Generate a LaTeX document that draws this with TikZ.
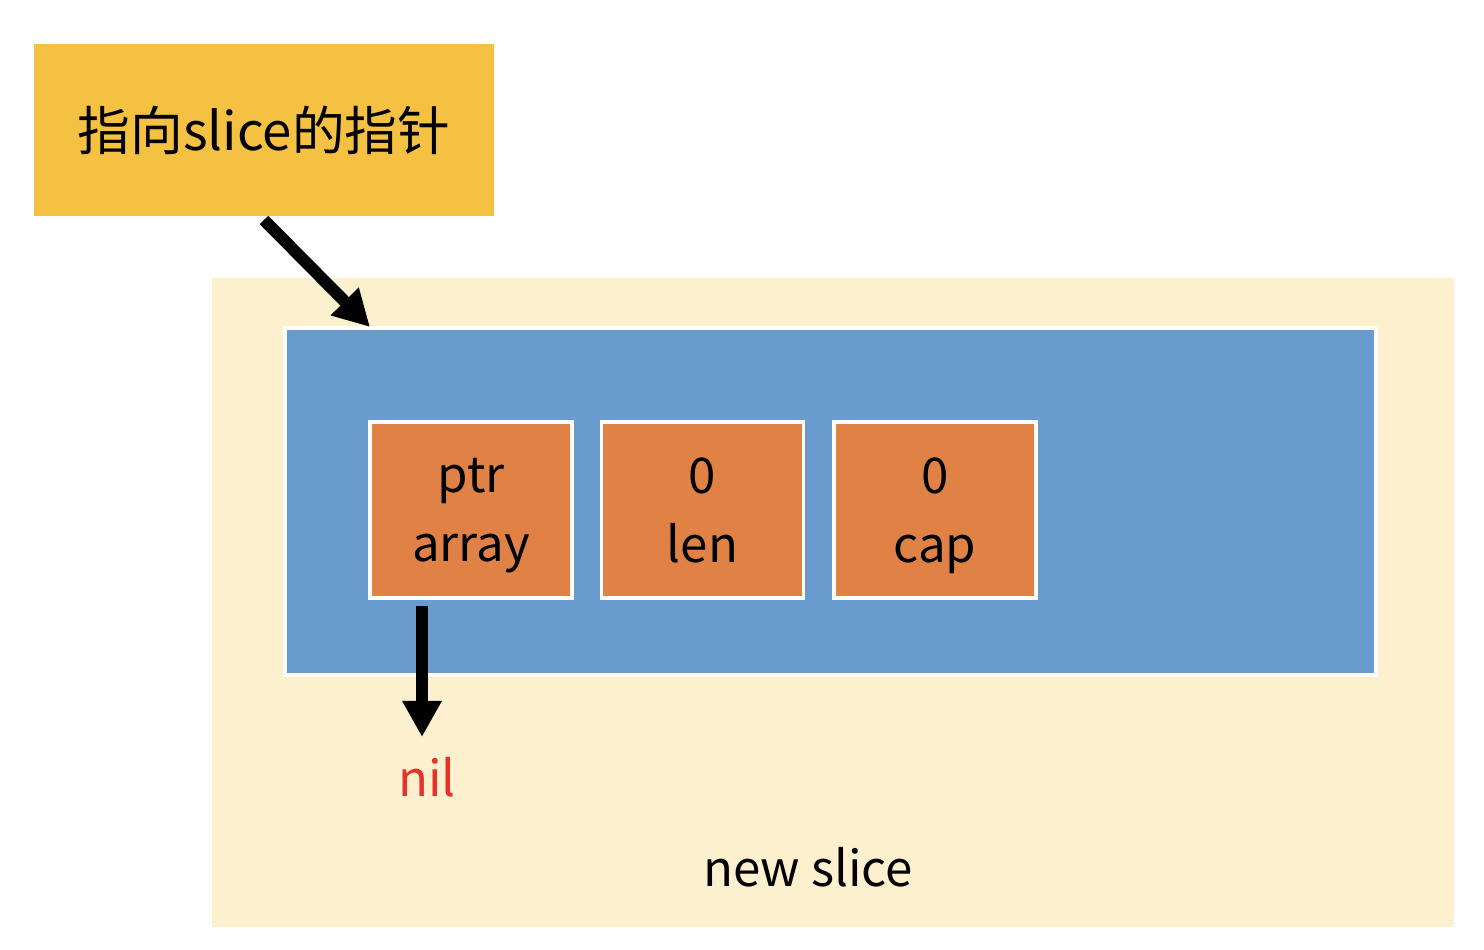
\documentclass[tikz,border=0pt]{standalone}
\usepackage{fontspec}
\newfontfamily\cjk{Noto Sans CJK SC}
\usetikzlibrary{arrows.meta}
\tikzset{every node/.style={font=\cjk\fontsize{14}{19.6}\selectfont}}
\definecolor{ptrcol}{HTML}{F5C142}
\definecolor{bgcol}{HTML}{FCF0CE}
\definecolor{slicecol}{HTML}{699BCF}
\definecolor{fieldcol}{HTML}{E08246}
\definecolor{nilcol}{HTML}{E5322A}
\tikzset{
  fieldbox/.style={draw=white, line width=1pt, fill=fieldcol,
    minimum width=2.02cm, minimum height=1.76cm, align=center, inner sep=0pt,
    text depth=0pt},
  bigarrow/.style={-{Triangle[length=3.6mm, width=3.7mm]}, line width=1.2mm, black}
}

\begin{document}
\begin{tikzpicture}[x=0.1mm, y=-0.1mm]

  \useasboundingbox (0,0) rectangle (1484,950);

  % Background of the new slice.
  \node[fill=bgcol, minimum width=12.42cm, minimum height=6.49cm, inner sep=0pt]
    (bg) at (833,602.5) {};

  % Slice header.
  \node[draw=white, line width=1pt, fill=slicecol, minimum width=10.91cm,
    minimum height=3.47cm, inner sep=0pt] (slice) at (830.5,501.5) {};

  % Fields.
  \node[fieldbox] (ptr) at (471,510) {ptr\\array};
  \node[fieldbox] (len) at (702.5,510) {0\\len};
  \node[fieldbox] (cap) at (935,510) {0\\cap};

  % Pointer box.
  \node[fill=ptrcol, minimum width=4.6cm, minimum height=1.72cm, inner sep=0pt]
    (pointer) at (264,130) {\fontsize{15}{18}\selectfont 指向slice的指针};

  % Labels.
  \node[text=nilcol] (nil) at (427,777) {nil};
  \node (name) at (808,867) {new slice};

  % Arrows.
  \coordinate (ptrtail) at (264,220);
  \coordinate (ptrhead) at (370,327);
  \draw[bigarrow] (ptrtail) -- (ptrhead);

  \coordinate (niltail) at (422,606);
  \coordinate (nilhead) at (422,737);
  \draw[bigarrow] (niltail) -- (nilhead);

\end{tikzpicture}
\end{document}
